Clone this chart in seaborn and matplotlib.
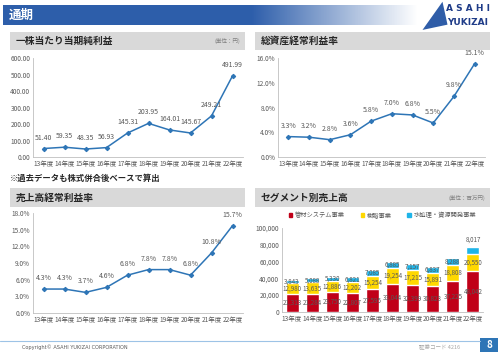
import matplotlib.pyplot as plt
import matplotlib.patches as mpatches
import numpy as np
import pandas as pd
import seaborn as sns

# %% data
years = ["13年度", "14年度", "15年度", "16年度", "17年度", "18年度", "19年度", "20年度", "21年度", "22年度"]
eps = [51.40, 59.35, 48.35, 56.93, 145.31, 203.95, 164.01, 145.67, 249.21, 491.99]
roa = [3.3, 3.2, 2.8, 3.6, 5.8, 7.0, 6.8, 5.5, 9.8, 15.1]
ros = [4.3, 4.3, 3.7, 4.6, 6.8, 7.8, 7.8, 6.8, 10.8, 15.7]
pipe = [21313, 21284, 23750, 22807, 27595, 33044, 32399, 30823, 37225, 48042]
resin = [12980, 13635, 12886, 12202, 15254, 19254, 17215, 15891, 18808, 20550]
water = [3843, 5088, 5330, 6821, 7085, 6885, 7157, 6837, 8288, 8017]
segments = ["管材システム事業", "樹脂事業", "水処理・資源開発事業"]

# %% style
sns.set_theme(style="white")
plt.rcParams["font.family"] = ["Noto Sans CJK JP", "DejaVu Sans"]

blue = "#2E75B6"
grey_txt = "#595959"
header_grey = "#D9D9D9"
seg_colors = ["#C00018", "#FFD800", "#1FB4E8"]

fig = plt.figure(figsize=(5.0, 3.52), dpi=100)
fig.patch.set_facecolor("white")

# %% top title bar with gradient
gax = fig.add_axes([0.006, 0.929, 0.83, 0.057])
grad = np.ones((1, 256, 3))
base = np.array([0.18, 0.37, 0.67])
fade = np.clip((np.linspace(0, 1, 256) - 0.6) / 0.4, 0, 1)
for i in range(3):
    grad[0, :, i] = base[i] * (1 - fade) + 1.0 * fade
gax.imshow(grad, aspect="auto", extent=[0, 1, 0, 1])
gax.axis("off")
fig.text(0.018, 0.957, "通期", color="white", fontsize=9, fontweight="bold", va="center")

# logo (text only)
fig.text(0.935, 0.975, "A S A H I", color="#1F3C88", fontsize=6.5, fontweight="bold",
         va="center", ha="center", family="DejaVu Sans")
fig.text(0.935, 0.935, "YUKIZAI", color="#1F3C88", fontsize=6.5, fontweight="bold",
         va="center", ha="center", family="DejaVu Sans")
fig.patches.append(mpatches.Polygon([[0.845, 0.915], [0.885, 0.995], [0.895, 0.93]],
                                    closed=True, transform=fig.transFigure,
                                    facecolor="#2F5DA8", edgecolor="none"))


def header(x, y, w, h, title, unit=None):
    fig.patches.append(mpatches.Rectangle((x, y), w, h, transform=fig.transFigure,
                                          facecolor=header_grey, edgecolor="none", zorder=0))
    fig.text(x + 0.012, y + h / 2, title, fontsize=7, fontweight="bold", va="center", color="#262626")
    if unit:
        fig.text(x + w - 0.01, y + h / 2, unit, fontsize=4, va="center", ha="right", color="#7F7F7F")


header(0.02, 0.858, 0.47, 0.051, "一株当たり当期純利益", "(単位：円)")
header(0.51, 0.858, 0.47, 0.051, "総資産経常利益率")
header(0.02, 0.412, 0.47, 0.054, "売上高経常利益率")
header(0.51, 0.412, 0.47, 0.054, "セグメント別売上高", "(単位：百万円)")

fig.text(0.02, 0.494, "※過去データも株式併合後ベースで算出", fontsize=6, fontweight="bold", va="center")


def style_axis(ax):
    sns.despine(ax=ax)
    for s in ["left", "bottom"]:
        ax.spines[s].set_color("#BFBFBF")
        ax.spines[s].set_linewidth(0.6)
    ax.set_xlabel("")
    ax.set_ylabel("")
    ax.tick_params(axis="both", labelsize=4.7, colors=grey_txt, length=0, pad=2)
    ax.set_xticks(np.arange(-0.5, len(years)), minor=True)
    ax.tick_params(axis="x", which="minor", length=2, color="#BFBFBF", width=0.6)
    ax.grid(False)


def line_panel(rect, values, ymax, step, fmt, label_fmt):
    ax = fig.add_axes(rect)
    df = pd.DataFrame({"year": years, "value": values})
    sns.pointplot(data=df, x="year", y="value", color=blue, markers="D",
                  markersize=2.2, linewidth=1.1, ax=ax)
    ax.set_ylim(0, ymax)
    ax.set_yticks(np.arange(0, ymax + step / 2, step))
    ax.set_yticklabels([fmt(v) for v in np.arange(0, ymax + step / 2, step)])
    style_axis(ax)
    for i, v in enumerate(values):
        ax.annotate(label_fmt(v), (i, v), xytext=(0, 5), textcoords="offset points",
                    ha="center", va="bottom", fontsize=5, color=grey_txt)
    return ax


line_panel([0.066, 0.554, 0.42, 0.281], eps, 600, 100,
           lambda v: f"{v:.2f}", lambda v: f"{v:.2f}")
line_panel([0.556, 0.554, 0.414, 0.281], roa, 16, 4,
           lambda v: f"{v:.1f}%", lambda v: f"{v:.1f}%")
line_panel([0.066, 0.111, 0.42, 0.284], ros, 18, 3,
           lambda v: f"{v:.1f}%", lambda v: f"{v:.1f}%")

# %% stacked bar chart
ax = fig.add_axes([0.564, 0.114, 0.402, 0.239])
pipe_a = np.array(pipe)
resin_a = np.array(resin)
water_a = np.array(water)
stack = [pipe_a + resin_a + water_a, pipe_a + resin_a, pipe_a]
for vals, c in zip(stack, seg_colors[::-1]):
    sns.barplot(x=years, y=vals, color=c, width=0.65, saturation=1, ax=ax)
ax.set_ylim(0, 100000)
ax.set_yticks(np.arange(0, 100001, 20000))
ax.set_yticklabels([f"{v:,}" for v in range(0, 100001, 20000)])
style_axis(ax)
for i in range(len(years)):
    ax.text(i, pipe[i] / 2, f"{pipe[i]:,}", ha="center", va="center", fontsize=4.5, color=grey_txt)
    ax.text(i, pipe[i] + resin[i] / 2, f"{resin[i]:,}", ha="center", va="center", fontsize=4.5, color=grey_txt)
    top = pipe[i] + resin[i] + water[i]
    if i == len(years) - 1:
        ax.text(i, top + 9000, f"{water[i]:,}", ha="center", va="center", fontsize=4.5, color=grey_txt)
    else:
        ax.text(i, top - water[i] / 2, f"{water[i]:,}", ha="center", va="center", fontsize=4.5, color=grey_txt)

handles = [mpatches.Patch(color=c, label=s) for c, s in zip(seg_colors, segments)]
ax.legend(handles=handles, loc="lower center", bbox_to_anchor=(0.5, 1.03), ncol=3,
          frameon=False, fontsize=4.5, handlelength=0.6, handleheight=0.6,
          columnspacing=2.5, handletextpad=0.4, labelcolor=grey_txt)

# %% footer
fig.add_artist(plt.Line2D([0.0, 0.96], [0.031, 0.031], transform=fig.transFigure,
                          color="#9DC3E6", linewidth=0.8))
fig.text(0.044, 0.014, "Copyright© ASAHI YUKIZAI CORPORATION", fontsize=3.6, color="#595959",
         va="center", family="DejaVu Sans")
fig.text(0.92, 0.014, "証券コード 4216", fontsize=4, color="#A6A6A6", va="center", ha="right")
fig.patches.append(mpatches.Rectangle((0.96, 0.0), 0.036, 0.04, transform=fig.transFigure,
                                      facecolor="#2E75B6", edgecolor="none"))
fig.text(0.978, 0.02, "8", fontsize=7, color="white", ha="center", va="center", fontweight="bold")

fig.savefig("out.png", dpi=100)
